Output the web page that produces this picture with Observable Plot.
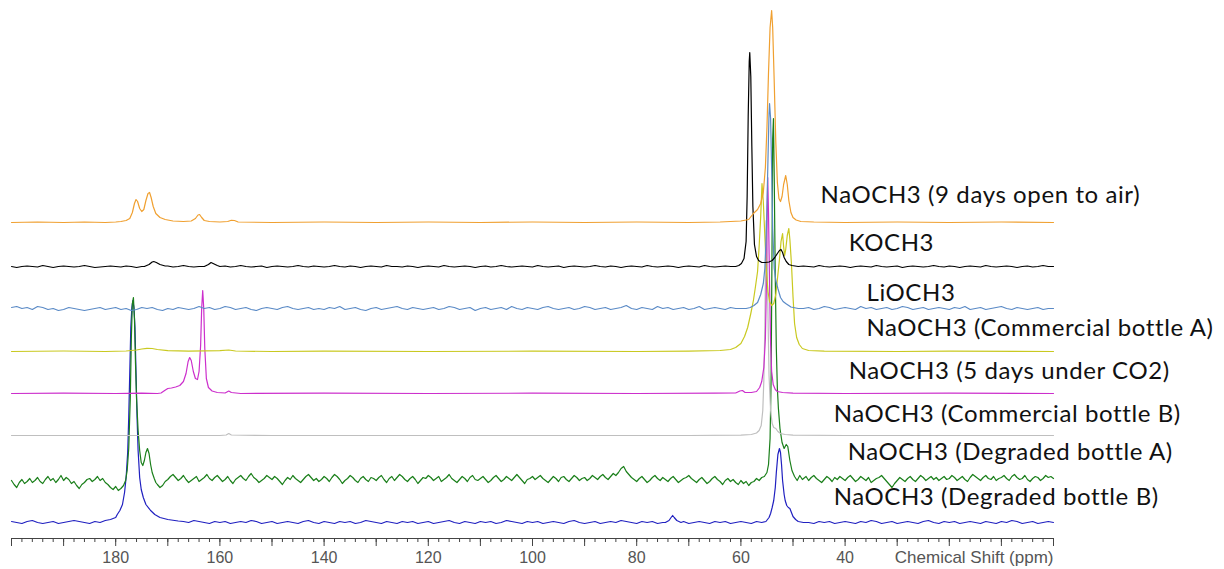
<!DOCTYPE html>
<html><head><meta charset="utf-8">
<script src="https://cdn.jsdelivr.net/npm/d3@7"></script>
<script src="https://cdn.jsdelivr.net/npm/@observablehq/plot@0.6"></script>
<style>body{margin:0;background:#fff;} svg{display:block;}</style>
</head><body><div id="chart"></div>
<script>
// ---------- categories ----------
const seriesNames = [
  "NaOCH3 (9 days open to air)",
  "KOCH3",
  "LiOCH3",
  "NaOCH3 (Commercial bottle A)",
  "NaOCH3 (5 days under CO2)",
  "NaOCH3 (Commercial bottle B)",
  "NaOCH3 (Degraded bottle A)",
  "NaOCH3 (Degraded bottle B)"
];
const seriesColors = ["#f0a030","#000000","#5a8ac6","#c9c920","#cc2fcc","#bfbfbf","#1a7f1a","#2020c0"];
const baselineOffsets = [316, 272, 230, 187, 145, 103, 60, 16];
const labelPpm  = [44.7, 39.3, 35.9, 35.9, 39.3, 42.2, 39.5, 42.2];
const labelLift = [27, 23, 15, 23, 22, 21, 26, 25];

// ---------- axis ----------
const tickLabels = [180, 160, 140, 120, 100, 80, 60, 40];
const majorTicks = d3.range(0, 201, 10);
const minorTicks = d3.range(0, 201, 2);
const axisTitle = "Chemical Shift (ppm)";

// ---------- spectra: [ppm, intensity] ----------
const orangeSpec = [[200,0],[195,0.5],[190,0],[186,0.5],[182,0],[180,0.5],[179,1],[178,2],[177.3,4],[176.8,10],[176.4,19],[176.1,23],[175.8,21],[175.4,14],[175.0,11],[174.6,13],[174.2,22],[173.8,29],[173.5,30],[173.2,25],[172.8,16],[172.3,9],[171.5,5],[170.5,3],[169,1.5],[167,1],[165.5,1.5],[164.7,4],[164.2,7.5],[163.9,8],[163.5,5],[163,2],[162,1],[160,0.5],[158.5,1],[157.8,2.2],[157.2,2],[156.5,0.5],[150,0],[140,0.5],[130,0],[120,0.5],[110,0],[100,0.5],[90,0],[80,0.5],[70,0],[64,0.5],[62,1],[60,1.5],[58.5,3],[57.6,9],[56.8,13],[56.2,19],[55.7,30],[55.3,55],[55.0,95],[54.7,150],[54.4,195],[54.1,212],[53.9,195],[53.6,140],[53.3,80],[53.0,40],[52.7,24],[52.4,21],[52.1,26],[51.8,38],[51.4,47],[51.1,38],[50.8,22],[50.4,10],[50.0,5],[49.4,2.5],[48.5,1],[46,0.5],[40,0],[30,0.5],[20,0],[10,0.5],[0,0]];

const kochNoise = `0 -1 0 0.5 0 -0.5 1 0 -1 0 0.5 0 -0.5 0 1 0 -1 -0.5 0 0.5
0 -0.5 0.5 0 -1 0 0 0 0 0 0.5 -0.5 0 1 0 -0.5 0 0 0 0
0 0.5 -0.5 0 1 0 -0.5 0 0.5 -1 0 0.5 0 -0.5 0 1 0 -0.5 0.5 0
-0.5 0 1 0 -0.5 0.5 0 -1 0 0.5 0 -0.5 1 0 0 -0.5 0.5 0 -1 0
0.5 0 -0.5 1 0 -0.5 0 0.5 0 -1 0 0.5 -0.5 0 1 0 -0.5 0 0.5 0
-0.5 1 0 -0.5 0 0.5 -1 0 0.5 0 -0.5 0 1 0 -0.5 0.5 0 -1 0 0.5
0 -0.5 1 0 -0.5 0 0.5 0 -1 0 0.5 0 -0.5 1 0 -0.5 0 0.5 0 0
0 0 0 0 0 0 0 0 0 0 0 0 0.5 0 -0.5 1 0 -0.5 0 0.5
0 -1 0 0.5 0 -0.5 1 0 -0.5 0 0.5 -1 0 0.5 0 -0.5 0 1 0 -0.5
0.5 0 -1 0 0.5 0 -0.5 1 0 -0.5 0 0.5 0 -1 0 0.5 -0.5 0 1 0
0`;
const kochPeaks = [
  [[174.5,0],[173.6,2],[173.0,4.5],[172.7,5],[172.2,4],[171.5,2],[170.5,0.5]],
  [[163,0],[162.2,2],[161.7,4],[161.3,3],[160.5,1],[160,0]],
  [[61,0],[60.4,1],[59.9,3],[59.4,8],[59.0,25],[58.8,70],[58.6,150],[58.4,205],[58.3,214],[58.1,190],[57.9,120],[57.7,60],[57.4,22],[57.0,10],[56.6,6],[56.0,4],[55.3,4],[54.6,4.5],[54.0,6],[53.5,9],[53.0,13],[52.6,16],[52.3,17],[52.0,14],[51.7,9],[51.3,5],[50.8,2],[50.2,1],[49,0]]
];

const liochNoise = `1 2 0 1 -1 2 1 -1 0 -2 -1 1 0 -1 -2 -1 0 1 -1 0
1 -1 0 -2 -1 1 0 1 -1 -2 0 -1 1 0 -1 0 2 0 1 -1
0 2 1 -1 0 1 -1 -2 0 1 0 -1 1 2 0 -1 0 1 -1 0
-1 1 0 2 -1 0 1 -1 -2 0 1 -1 0 1 2 0 -1 1 0 -1
0 1 -1 0 2 1 -1 0 1 -2 0 1 -1 0 1 -1 2 0 -1 1
0 -1 1 2 0 -1 0 1 -1 0 2 1 -1 0 1 -1 0 1 3 0
-1 1 0 -1 2 0 1 -1 0 1 -1 0 2 -1 0 1 0 -1 1 0
0 1 -1 0 1 0 -1 1 0 2 1 -1 0 1 -1 0 2 1 -1 0
1 0 -1 2 0 1 -1 0 1 -1 0 2 1 -1 0 1 -1 0 1 0
-1 1 0 2 -1 0 1 -1 0 1 2 0 -1 1 0 -1 0 1 -1 0
0`;
const liochPeaks = [
  [[59,0],[58.2,1],[57.5,3],[56.8,6],[56.2,14],[55.7,25],[55.4,40],[55.1,80],[54.8,150],[54.6,195],[54.5,205],[54.3,190],[54.1,140],[53.9,80],[53.6,40],[53.3,28],[52.9,20],[52.4,11],[51.9,7],[51.4,5],[50.4,1.5],[49,0]]
];

const yellowSpec = [[200,0],[190,0.5],[182,0],[178,0.5],[176,1.5],[175,2.5],[174,3.2],[173,3],[172,2],[170,0.8],[166,0.3],[160,0.8],[158.3,1.5],[157,0.5],[150,0],[140,0.3],[120,0],[100,0.3],[80,0],[70,0.3],[64,1],[62,2],[61,4],[60,8],[59.3,15],[58.7,24],[58.1,38],[57.6,51],[57.2,65],[56.8,80],[56.5,105],[56.2,135],[55.95,168],[55.7,150],[55.4,115],[55.1,80],[54.8,60],[54.5,50],[54.1,46],[53.7,48],[53.3,57],[53.0,72],[52.6,92],[52.3,110],[52.0,118],[51.8,105],[51.6,96],[51.4,102],[51.1,116],[50.8,123],[50.6,112],[50.3,88],[50.0,55],[49.7,28],[49.3,14],[48.8,7],[48.2,3],[47,1],[44,0.3],[30,0],[20,0.3],[0,0]];

const magentaSpec = [[200,0],[190,0.3],[180,0],[175,0.3],[172,0],[171.3,0.5],[170.6,3],[170.0,5],[169.3,5.5],[168.5,6.5],[167.7,8],[167.0,12],[166.5,20],[166.1,32],[165.8,36],[165.5,33],[165.1,22],[164.7,15],[164.3,14],[164.0,22],[163.7,48],[163.5,85],[163.3,103],[163.1,85],[162.9,45],[162.6,15],[162.2,6],[161.5,2.5],[160.5,1],[159,0.5],[158.3,2.5],[157.8,1],[156,0],[140,0.3],[120,0],[100,0.3],[80,0],[65,0.3],[61,0.5],[60.2,2.5],[59.7,3],[59.2,1],[58,1],[57,2],[56.4,6],[56.0,12],[55.6,26],[55.3,55],[55.1,110],[54.95,180],[54.85,216],[54.7,180],[54.5,110],[54.3,50],[54.1,22],[53.8,9],[53.4,4],[53,2],[52,1],[50,0.3],[40,0],[20,0.3],[0,0]];

const graySpec = [[200,0],[180,0],[160,0],[158.8,0.5],[158.3,2],[157.8,0.5],[150,0],[100,0],[70,0],[60,0.3],[58,1],[57,2.5],[56.5,5],[56.1,10],[55.8,25],[55.6,55],[55.4,110],[55.25,180],[55.15,215],[55.0,185],[54.8,120],[54.6,60],[54.3,25],[54.0,12],[53.7,8],[53.3,7],[52.9,4],[52.4,2],[51.5,1],[50,0.3],[40,0],[0,0]];

const greenNoise = `-2 -6 -9 -4 -1 -5 -3 0 -4 -2 1 -3 -5 -1 2 -2 0 -4 -1 3
-2 1 -1 -5 -3 -7 -10 -6 -4 -1 0 -3 -1 2 -2 0 -4 -6 -9 -11
-8 -12 -10 0 0 0 0 0 0 0 0 0 0 0 0 0 0 -9 -7 -3
-1 2 4 1 -2 0 3 -1 -4 -2 0 2 -3 -1 1 4 0 -2 1 3
0 -3 -1 2 -2 -5 -1 1 3 0 -2 2 5 1 -1 -4 -2 0 3 1
-1 2 0 -3 -6 -2 1 -1 3 0 -2 -4 -1 2 4 1 -2 0 -3 -1
2 0 -3 1 4 2 -1 -5 -2 0 3 1 -2 -4 0 2 -1 -3 1 0
-2 1 3 -1 -4 0 2 -2 1 4 2 -1 -3 0 2 -1 -5 -2 1 0
3 1 -2 0 2 -3 -1 1 4 0 -2 -4 -1 2 0 -3 1 3 -1 -2
0 2 -1 -4 -2 1 3 0 -3 -1 2 0 -2 1 4 1 -2 -5 -1 0
2 -1 1 3 0 -2 -4 -1 2 0 -3 1 2 -1 -3 0 3 1 -2 0
1 -2 0 3 1 -1 2 4 1 -1 2 5 3 6 10 12 7 4 1 -1
-3 0 2 -1 -4 -2 1 3 0 -2 1 -1 -3 0 2 -1 -4 -2 0 1
3 0 -2 -4 -1 1 -2 -5 -3 0 2 -1 -3 -6 -2 0 -3 -1 -4 -6
-2 -5 -3 -7 -4 0 0 0 0 0 0 0 0 0 0 0 0 0 0 0
0 0 0 0 0 0 -2 1 3 0 -2 -4 -1 2 0 -3 1 -1 2 0
-2 1 3 0 -3 -1 2 0 -2 1 -4 -2 0 1 3 0 -3 -6 -9 -5
-2 1 -1 -3 0 2 -1 -3 0 3 1 -2 0 2 -1 1 -2 0 2 -1
0 3 1 -2 0 2 -1 -3 1 4 2 0 -2 1 3 0 -1 2 -2 0
1 3 0 -2 2 4 1 -1 0 3 -1 -3 0 2 1 -2 0 3 1 2
0`;
const greenPeaks = [
  [[178.5,-7],[178.1,-2],[177.8,8],[177.5,30],[177.2,80],[177.0,140],[176.8,175],[176.6,181],[176.4,160],[176.2,115],[176.0,80],[175.7,48],[175.4,28],[175.1,16],[174.8,13],[174.5,18],[174.2,26],[173.9,30],[173.6,25],[173.3,14],[173.0,6],[172.6,0],[172.3,-4],[172.0,-6]],
  [[57.5,-3],[57,0],[56.5,-2],[56,1],[55.5,2],[55.0,6],[54.7,14],[54.4,40],[54.2,100],[54.0,250],[53.9,340],[53.75,360],[53.6,300],[53.4,200],[53.2,130],[53.0,90],[52.8,70],[52.5,50],[52.1,36],[51.7,30],[51.3,34],[51.0,32],[50.6,18],[50.2,8],[49.7,2],[49.2,-2],[48.7,3],[48.2,-1],[47.5,2]]
];

const blueNoise = `1 0 -1 1 2 0 -1 0 1 -1 0 1 2 1 0 -1 1 0 2 1
0 0 0 0 0 0 0 0 0 0 0 0 0 1 0 2 1 0 -1 1
0 1 -1 0 1 0 2 1 -1 0 1 -1 0 1 0 -1 1 2 0 -1
1 0 -1 1 0 1 -1 0 2 1 0 -1 1 0 -1 1 0 1 -1 0
1 -1 0 1 2 0 -1 1 0 -1 1 0 1 -1 0 2 1 0 -1 1
0 1 -1 0 1 0 -1 1 2 0 -1 0 1 -1 0 1 0 2 1 0
-1 1 0 1 -1 0 0 0 0 1 -1 0 1 0 -1 1 0 1 -1 0
1 0 -1 1 0 0 0 0 0 0 0 0 0 0 -1 1 0 1 -1 0
1 0 -1 1 0 2 1 -1 0 1 -1 0 1 0 -1 1 2 0 -1 1
0 1 -1 0 1 0 -1 1 0 -1 1 0 2 1 -1 0 1 -1 0 1
0`;
const bluePeaks = [
  [[181,3],[180,5],[179.7,8],[179.2,12],[178.7,18],[178.3,30],[178.0,45],[177.7,70],[177.5,105],[177.3,150],[177.1,195],[176.9,215],[176.7,222],[176.5,215],[176.3,195],[176.1,150],[175.9,105],[175.7,72],[175.4,45],[175.1,33],[174.7,25],[174.2,18],[173.3,12],[172.5,8],[171.5,5],[170,3],[168,1.5]],
  [[74.5,0],[73.8,2],[73.4,5],[73.1,7],[72.8,5],[72.3,2],[71.5,0]],
  [[56,0],[55.2,1],[54.6,5],[54.3,9],[54.0,15],[53.7,22],[53.4,35],[53.2,50],[52.9,68],[52.6,74],[52.4,70],[52.2,58],[52.0,42],[51.7,28],[51.5,22],[51.2,17],[50.9,15],[50.6,14],[50.3,10],[50.0,6],[49.5,3],[49,1],[48,0]]
];

// ---------- assemble ----------
function parse(s) { return s.trim().split(/\s+/).map(Number); }
function merge(noiseStr, step, segments) {
  const pts = [];
  if (noiseStr) parse(noiseStr).forEach((v, i) => {
    const p = 200 - i * step;
    if (!segments.some(s => p <= s[0][0] && p >= s[s.length - 1][0])) pts.push([p, v]);
  });
  segments.forEach(s => pts.push(...s));
  return pts.sort((a, b) => b[0] - a[0]);
}
const spectra = [
  orangeSpec,
  merge(kochNoise, 1, kochPeaks),
  merge(liochNoise, 1, liochPeaks),
  yellowSpec,
  magentaSpec,
  graySpec,
  merge(greenNoise, 0.5, greenPeaks),
  merge(blueNoise, 1, bluePeaks)
];
const drawOrder = [7, 6, 5, 4, 3, 2, 1, 0];
const rows = [];
drawOrder.forEach(k => spectra[k].forEach(([ppm, h]) => rows.push({k, name: seriesNames[k], ppm, y: baselineOffsets[k] + h})));
const labels = seriesNames.map((n, k) => ({n, x: labelPpm[k], y: baselineOffsets[k] + labelLift[k]}));

const axisFont = "Liberation Sans, Arial, sans-serif";
const chart = Plot.plot({
  width: 1224, height: 569,
  marginLeft: 11, marginRight: 171, marginTop: 0, marginBottom: 31,
  x: {domain: [200, 0], axis: null},
  y: {domain: [0, 538], axis: null},
  style: {background: "#fff"},
  marks: [
    Plot.line(rows, {x: "ppm", y: "y", z: "k", stroke: d => seriesColors[d.k], strokeWidth: 1.2, curve: "linear"}),
    Plot.ruleY([0], {stroke: "#444", strokeWidth: 1}),
    Plot.ruleX(minorTicks, {x: d => d, y1: 0, y2: -4, stroke: "#444", strokeWidth: 1}),
    Plot.ruleX(majorTicks, {x: d => d, y1: 0, y2: -8, stroke: "#444", strokeWidth: 1}),
    Plot.text(tickLabels, {x: d => d, y: 0, dy: 19, text: d => String(d), fill: "#555", fontSize: 16, fontFamily: axisFont}),
    Plot.text([axisTitle], {x: 0, y: 0, dy: 19, text: d => d, textAnchor: "end", fill: "#555", fontSize: 17, fontFamily: axisFont}),
    Plot.text(labels, {x: "x", y: "y", text: "n", textAnchor: "start", fill: "#111", fontSize: 24, fontFamily: "Lato, sans-serif"})
  ]
});
d3.select(chart).selectAll("text")
  .filter(function() { return seriesNames.includes(this.textContent); })
  .attr("letter-spacing", "0.6px");
document.getElementById("chart").appendChild(chart);
</script>
</body></html>
